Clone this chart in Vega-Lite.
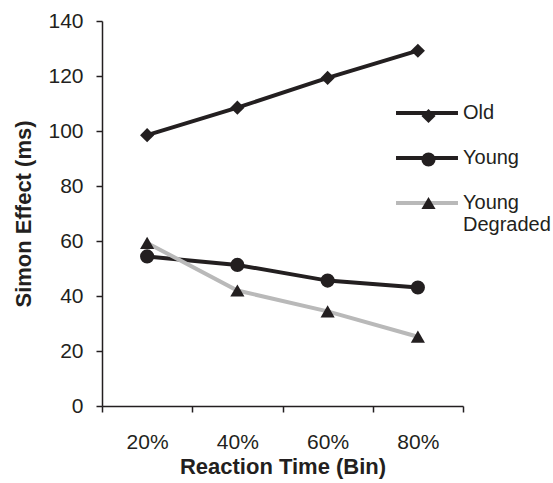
{
  "$schema": "https://vega.github.io/schema/vega-lite/v6.json",
  "width": 361,
  "height": 385,
  "autosize": {"type": "none"},
  "padding": {"left": 102, "top": 21, "right": 90, "bottom": 77},
  "background": "white",
  "config": {
    "view": {"stroke": null},
    "font": "Liberation Sans",
    "axis": {
      "grid": false,
      "domainColor": "#231f20",
      "tickColor": "#231f20",
      "labelColor": "#231f20",
      "titleColor": "#231f20",
      "domainWidth": 1.5,
      "tickWidth": 1.5,
      "tickSize": 6,
      "labelFont": "Liberation Sans",
      "titleFont": "Liberation Sans",
      "labelFontSize": 21,
      "titleFontSize": 22,
      "titleFontWeight": "bold"
    },
    "legend": {
      "labelFont": "Liberation Sans",
      "labelFontSize": 20,
      "labelColor": "#231f20",
      "padding": 0
    }
  },
  "data": {
    "values": [
      {"bin": "20%", "group": "Old", "effect": 98.5},
      {"bin": "40%", "group": "Old", "effect": 108.5},
      {"bin": "60%", "group": "Old", "effect": 119.3},
      {"bin": "80%", "group": "Old", "effect": 129.2},
      {"bin": "20%", "group": "Young", "effect": 54.4},
      {"bin": "40%", "group": "Young", "effect": 51.3},
      {"bin": "60%", "group": "Young", "effect": 45.6},
      {"bin": "80%", "group": "Young", "effect": 43.1},
      {"bin": "20%", "group": "Young Degraded", "effect": 59.3},
      {"bin": "40%", "group": "Young Degraded", "effect": 42.0},
      {"bin": "60%", "group": "Young Degraded", "effect": 34.4},
      {"bin": "80%", "group": "Young Degraded", "effect": 25.2}
    ]
  },
  "encoding": {
    "x": {
      "field": "bin",
      "type": "ordinal",
      "scale": {"paddingInner": 0, "paddingOuter": 0},
      "axis": {
        "title": "Reaction Time (Bin)",
        "labelAngle": 0,
        "tickBand": "extent",
        "labelPadding": 19,
        "titlePadding": 4
      }
    },
    "y": {
      "field": "effect",
      "type": "quantitative",
      "scale": {"domain": [0, 140], "nice": false},
      "axis": {
        "title": "Simon Effect (ms)",
        "values": [0, 20, 40, 60, 80, 100, 120, 140],
        "labelPadding": 13,
        "titlePadding": 12
      }
    }
  },
  "layer": [
    {
      "mark": {"type": "line", "strokeWidth": 4},
      "encoding": {
        "color": {
          "field": "group",
          "type": "nominal",
          "scale": {
            "domain": ["Old", "Young", "Young Degraded"],
            "range": ["#231f20", "#231f20", "#b9b9b9"]
          },
          "legend": {
            "title": null,
            "orient": "none",
            "legendX": 315,
            "legendY": 82,
            "symbolType": "M-4,0H4",
            "symbolSize": 240,
            "symbolStrokeWidth": 4,
            "labelOffset": 26,
            "rowPadding": 25,
            "labelExpr": "datum.label == 'Young Degraded' ? ['Young', 'Degraded'] : datum.label"
          }
        }
      }
    },
    {
      "mark": {"type": "point", "filled": true, "opacity": 1, "color": "#231f20", "size": 200},
      "encoding": {
        "shape": {
          "field": "group",
          "type": "nominal",
          "scale": {
            "range": ["diamond", "circle", "triangle-up"]
          },
          "legend": {
            "title": null,
            "orient": "none",
            "legendX": 316.5,
            "legendY": 85,
            "symbolSize": 200,
            "symbolFillColor": "#231f20",
            "symbolStrokeWidth": 0,
            "symbolOpacity": 1,
            "labelExpr": "''",
            "rowPadding": 23.5
          }
        }
      }
    }
  ]
}
